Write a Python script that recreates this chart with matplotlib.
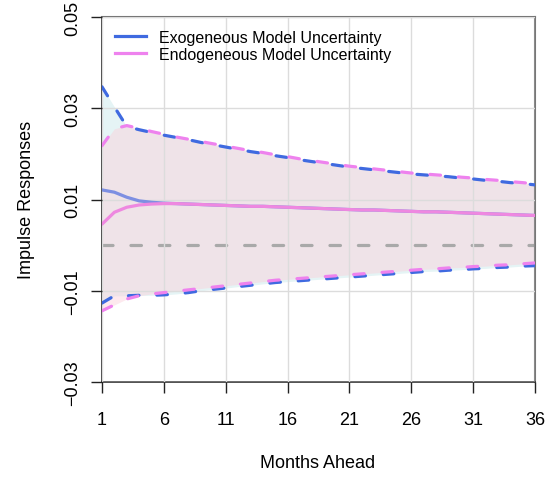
import matplotlib
matplotlib.use("Agg")
import matplotlib.pyplot as plt
import numpy as np

plt.rcParams['font.family'] = ['Liberation Sans', 'DejaVu Sans']

horizon = np.arange(1, 37)

# Exogenous model uncertainty: median response and bands
exo_mid = [0.0121, 0.0116, 0.0105, 0.0097, 0.0094, 0.0092, 0.0091, 0.0090, 0.0089, 0.0088,
           0.0087, 0.0086, 0.0085, 0.0085, 0.0084, 0.0083, 0.0082, 0.0081, 0.0080, 0.0079,
           0.0078, 0.0077, 0.0077, 0.0076, 0.0075, 0.0074, 0.0073, 0.0073, 0.0072, 0.0071,
           0.0070, 0.0069, 0.0068, 0.0067, 0.0066, 0.0065]
exo_hi = [0.0347, 0.0303, 0.0260, 0.0253, 0.0247, 0.0241, 0.0236, 0.0231, 0.0225, 0.0220,
          0.0215, 0.0210, 0.0205, 0.0201, 0.0196, 0.0192, 0.0187, 0.0183, 0.0179, 0.0175,
          0.0171, 0.0168, 0.0165, 0.0162, 0.0159, 0.0156, 0.0154, 0.0152, 0.0150, 0.0147,
          0.0145, 0.0142, 0.0140, 0.0137, 0.0135, 0.0132]
exo_lo = [-0.0127, -0.0111, -0.0111, -0.0110, -0.0110, -0.0109, -0.0107, -0.0104, -0.0100, -0.0097,
          -0.0094, -0.0091, -0.0088, -0.0085, -0.0082, -0.0080, -0.0078, -0.0076, -0.0074, -0.0072,
          -0.0070, -0.0068, -0.0066, -0.0064, -0.0062, -0.0060, -0.0058, -0.0057, -0.0055, -0.0054,
          -0.0052, -0.0051, -0.0049, -0.0048, -0.0046, -0.0045]

# Endogenous model uncertainty: median response and bands
endo_mid = [0.0046, 0.0072, 0.0083, 0.0088, 0.0090, 0.0091, 0.0091, 0.0090, 0.0089, 0.0088,
            0.0087, 0.0086, 0.0085, 0.0085, 0.0084, 0.0083, 0.0082, 0.0081, 0.0080, 0.0079,
            0.0078, 0.0077, 0.0077, 0.0076, 0.0075, 0.0074, 0.0073, 0.0073, 0.0072, 0.0071,
            0.0070, 0.0069, 0.0068, 0.0067, 0.0066, 0.0065]
endo_hi = [0.0218, 0.0255, 0.0262, 0.0256, 0.0249, 0.0243, 0.0237, 0.0232, 0.0227, 0.0222,
           0.0217, 0.0212, 0.0207, 0.0203, 0.0198, 0.0194, 0.0189, 0.0185, 0.0181, 0.0177,
           0.0173, 0.0170, 0.0167, 0.0164, 0.0161, 0.0158, 0.0156, 0.0154, 0.0152, 0.0149,
           0.0147, 0.0144, 0.0142, 0.0139, 0.0137, 0.0134]
endo_lo = [-0.0144, -0.0131, -0.0118, -0.0111, -0.0107, -0.0104, -0.0101, -0.0098, -0.0095, -0.0092,
           -0.0089, -0.0086, -0.0083, -0.0080, -0.0077, -0.0075, -0.0073, -0.0071, -0.0069, -0.0067,
           -0.0065, -0.0063, -0.0061, -0.0059, -0.0057, -0.0055, -0.0053, -0.0052, -0.0050, -0.0049,
           -0.0047, -0.0046, -0.0044, -0.0043, -0.0041, -0.0039]

x_ticks = [1, 6, 11, 16, 21, 26, 31, 36]
y_ticks = [-0.03, -0.01, 0.01, 0.03, 0.05]
y_tick_labels = ["\u22120.03", "\u22120.01", "0.01", "0.03", "0.05"]
series_labels = ["Exogeneous Model Uncertainty", "Endogeneous Model Uncertainty"]

blue = "#3f6ae0"
pink = "#ee82ee"

fig = plt.figure(figsize=(5.52, 4.81), dpi=100)
ax = fig.add_axes([102 / 552, 1 - 383 / 481, 433 / 552, 365 / 481])

# uncertainty bands
ax.fill_between(horizon, exo_lo, exo_hi, color=(0.898, 0.957, 0.961), lw=0, zorder=1)
ax.fill_between(horizon, endo_lo, endo_hi, color=(0.983, 0.813, 0.854), alpha=0.46, lw=0, zorder=1.1)

ax.grid(True, color="#dcdcdc", lw=1.0, zorder=1.5)
ax.set_axisbelow(False)
for gl in ax.get_xgridlines() + ax.get_ygridlines():
    gl.set_zorder(1.5)

dash = dict(ls=(0, (3.3, 5.6)), dash_capstyle="round", lw=2.3)

ax.axhline(0, color="#a9a9a9", zorder=2, **dash)

ax.plot(horizon, exo_hi, color=blue, zorder=3, **dash)
ax.plot(horizon, exo_lo, color=blue, zorder=3, **dash)
ax.plot(horizon, exo_mid, color="#7d8fe2", lw=2.3, zorder=3, solid_capstyle="round",
        label=series_labels[0])
ax.plot(horizon, endo_hi, color=pink, zorder=4, **dash)
ax.plot(horizon, endo_lo, color=pink, zorder=4, **dash)
ax.plot(horizon, endo_mid, color="#ee88e0", lw=2.3, zorder=4, solid_capstyle="round",
        label=series_labels[1])

ax.set_xlim(1, 36)
ax.set_ylim(-0.03, 0.05)
ax.set_xticks(x_ticks)
ax.set_xticklabels([str(t) for t in x_ticks])
ax.set_yticks(y_ticks)
ax.set_yticklabels(y_tick_labels, rotation=90, va="center")

ax.tick_params(axis="both", direction="out", length=8, width=1.0, color="#222222",
               labelsize=13, labelcolor="black")
ax.tick_params(axis="x", pad=13)
ax.tick_params(axis="y", pad=7)

for side in ["left", "bottom"]:
    ax.spines[side].set_color("#333333")
    ax.spines[side].set_linewidth(1.2)
for side in ["top", "right"]:
    ax.spines[side].set_color("#777777")
    ax.spines[side].set_linewidth(1.5)

fig.text(318 / 552, 1 - 464 / 481, "Months Ahead", ha="center", va="center", fontsize=13)
fig.text(27 / 552, 1 - 200 / 481, "Impulse Responses", ha="center", va="center",
         rotation=90, fontsize=13)

handles = [plt.Line2D([], [], color=blue, lw=2.3), plt.Line2D([], [], color=pink, lw=2.3)]
leg = ax.legend(handles, series_labels, loc="upper left", frameon=False, fontsize=11.5,
                handlelength=1.9, handletextpad=0.85, labelspacing=0.1,
                bbox_to_anchor=(0.005, 0.995), borderaxespad=0.3)

fig.savefig("out.png", dpi=100)
